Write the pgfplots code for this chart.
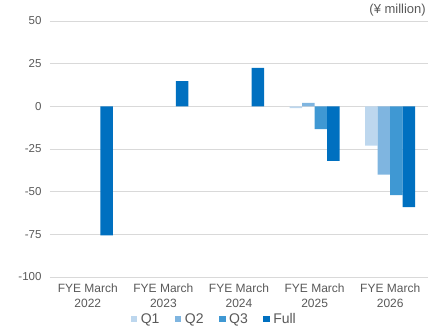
\documentclass[border=0pt]{standalone}
\usepackage{pgfplots}
\pgfplotsset{compat=1.18}
\usepackage{fontspec}
\setmainfont{Liberation Sans}
\definecolor{cQ1}{HTML}{BDD7EE}
\definecolor{cQ2}{HTML}{7FB5E0}
\definecolor{cQ3}{HTML}{3F98D3}
\definecolor{cFull}{HTML}{0070C0}
\definecolor{txt}{HTML}{595959}
\definecolor{grd}{HTML}{D9D9D9}
\begin{document}
\begin{tikzpicture}
\path[use as bounding box] (0,0) rectangle (428pt,330pt);
\begin{axis}[
  at={(50pt,53pt)}, anchor=south west,
  scale only axis, width=378pt, height=256pt,
  ymin=-100, ymax=50, ytick={-100,-75,-50,-25,0,25,50},
  xmin=-0.5, xmax=4.5, xtick={0,1,2,3,4},
  xticklabels={{FYE March\\2022},{FYE March\\2023},{FYE March\\2024},{FYE March\\2025},{FYE March\\2026}},
  xticklabel style={align=center, font=\fontsize{12}{15}\selectfont, text=txt, yshift=1pt},
  yticklabel style={font=\fontsize{11.5}{12}\selectfont, text=txt, xshift=-5pt},
  /pgf/number format/assume math mode=true,
  axis line style={draw=none}, major tick style={draw=none},
  ymajorgrids, grid style={grd, line width=0.8pt},
  ybar=0pt, bar width=12.5pt,
  legend style={at={(0.434,-0.165)}, anchor=center, draw=none, fill=none,
    legend columns=-1, font=\fontsize{14}{14}\selectfont, text=txt,
    /tikz/every odd column/.append style={column sep=2pt},
    /tikz/every even column/.append style={column sep=14pt},
    nodes={inner sep=1.5pt}},
  legend image code/.code={\fill (0pt,-3.2pt) rectangle (6.5pt,3.3pt);},
  clip=false,
]
\addplot[fill=cQ1, draw=none] coordinates {(3,-1) (4,-23)};
\addplot[fill=cQ2, draw=none] coordinates {(3,2) (4,-40)};
\addplot[fill=cQ3, draw=none] coordinates {(3,-13.3) (4,-52)};
\addplot[fill=cFull, draw=none] coordinates {(0,-75.6) (1,14.8) (2,22.5) (3,-32) (4,-59)};
\legend{Q1,Q2,Q3,Full}
\end{axis}
\node[anchor=east, text=txt, font=\fontsize{13}{13}\selectfont, inner sep=0pt] at (426pt,320pt) {(¥ million)};
\end{tikzpicture}
\end{document}
